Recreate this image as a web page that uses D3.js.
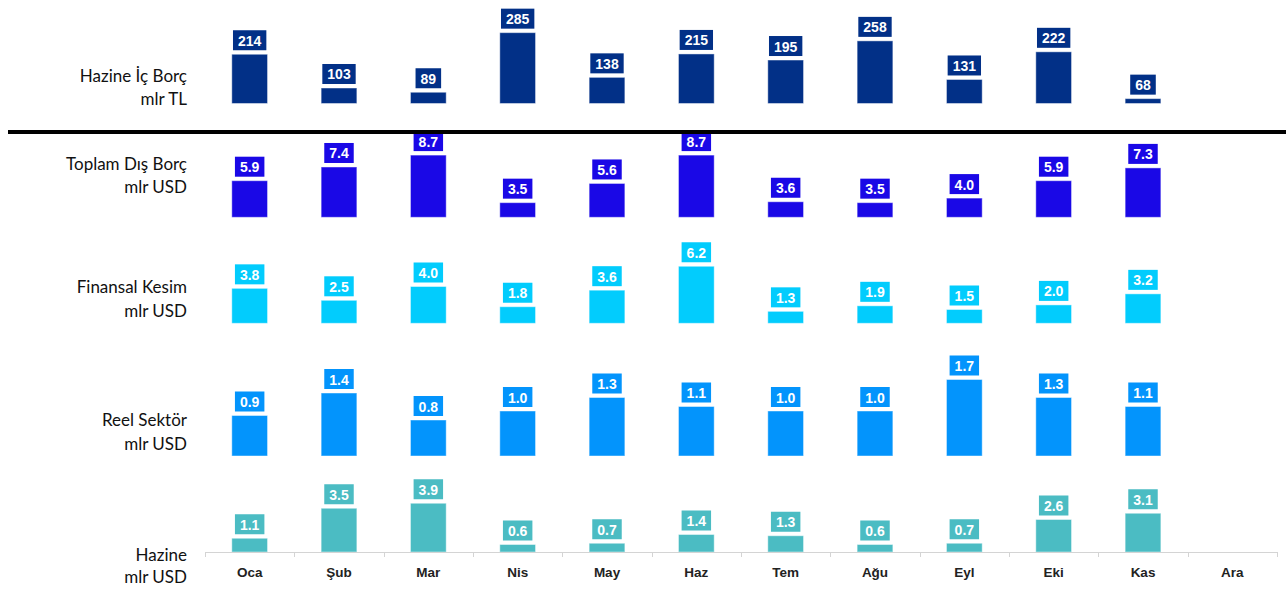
<!DOCTYPE html>
<html>
<head>
<meta charset="utf-8">
<script src="https://cdn.jsdelivr.net/npm/d3@7"></script>
<style>
  body { margin: 0; background: #ffffff; }
</style>
</head>
<body>
<div id="chart"></div>
<script>

// months (Ara has no data yet)
var months = ["Oca", "Şub", "Mar", "Nis", "May", "Haz", "Tem", "Ağu", "Eyl", "Eki", "Kas", "Ara"];

// series values
var hazineIcBorc  = [214, 103, 89, 285, 138, 215, 195, 258, 131, 222, 68];
var toplamDisBorc = [5.9, 7.4, 8.7, 3.5, 5.6, 8.7, 3.6, 3.5, 4.0, 5.9, 7.3];
var finansalKesim = [3.8, 2.5, 4.0, 1.8, 3.6, 6.2, 1.3, 1.9, 1.5, 2.0, 3.2];
var reelSektor    = [0.9, 1.4, 0.8, 1.0, 1.3, 1.1, 1.0, 1.0, 1.7, 1.3, 1.1];
var hazineUsd     = [1.1, 3.5, 3.9, 0.6, 0.7, 1.4, 1.3, 0.6, 0.7, 2.6, 3.1];

// row labels
var rowLabels = [
  ["Hazine İç Borç", "mlr TL"],
  ["Toplam Dış Borç", "mlr USD"],
  ["Finansal Kesim", "mlr USD"],
  ["Reel Sektör", "mlr USD"],
  ["Hazine", "mlr USD"]
];

var width = 1288, height = 590;

var svg = d3.select("#chart")
  .append("svg")
    .attr("width", width)
    .attr("height", height)
    .style("font-family", "'Liberation Sans', Arial, sans-serif");

// x scale shared by all rows
var x = d3.scaleBand()
  .domain(months)
  .range([205, 1277])
  .paddingInner(0.6)
  .paddingOuter(0.3);
var step = x.step();

// every row is its own little chart (own baseline and value axis)
var rows = [
  {values: hazineIcBorc,  color: "#023087", fmt: d3.format("d"),
   y: d3.scaleLinear().domain([52, 300]).range([103.5, 28.1]), labelY: [82, 105]},
  {values: toplamDisBorc, color: "#1a08e6", fmt: d3.format(".1f"),
   y: d3.scaleLinear().domain([1.9, 10]).range([217.3, 143.2]), labelY: [170, 193]},
  {values: finansalKesim, color: "#02ccfd", fmt: d3.format(".1f"),
   y: d3.scaleLinear().domain([0, 7]).range([323.3, 258.9]), labelY: [293, 317]},
  {values: reelSektor,    color: "#0394fc", fmt: d3.format(".1f"),
   y: d3.scaleLinear().domain([0, 2]).range([456, 366]), labelY: [426, 450]},
  {values: hazineUsd,     color: "#4bbcc3", fmt: d3.format(".1f"),
   y: d3.scaleLinear().domain([0, 4]).range([552, 502]), labelY: [561, 583]}
];

rows.forEach(function(row, r) {
  var data = row.values.map(function(v, i) { return {month: months[i], value: v}; });
  var base = row.y.range()[0];
  var g = svg.append("g");

  // row title on the left
  g.selectAll("text.rowlabel")
    .data(rowLabels[r])
    .enter()
    .append("text")
      .attr("class", "rowlabel")
      .attr("x", 187)
      .attr("y", function(d, i) { return row.labelY[i]; })
      .attr("text-anchor", "end")
      .style("font-family", "Lato, 'Noto Sans', sans-serif")
      .style("font-size", "17px")
      .style("fill", "#111")
      .text(function(d) { return d; });

  // bars
  g.selectAll("rect.bar")
    .data(data)
    .enter()
    .append("rect")
      .attr("class", "bar")
      .attr("x", function(d) { return x(d.month); })
      .attr("y", function(d) { return row.y(d.value); })
      .attr("width", x.bandwidth())
      .attr("height", function(d) { return base - row.y(d.value); })
      .style("fill", row.color)
      .style("stroke", "rgba(255,255,255,0.45)")
      .style("stroke-width", 1);

  // value labels in boxes
  var lab = g.selectAll("g.lab")
    .data(data)
    .enter()
    .append("g")
      .attr("class", "lab");

  lab.append("text")
      .attr("x", function(d) { return x(d.month) + x.bandwidth() / 2; })
      .attr("y", function(d) { return row.y(d.value) - 8.5; })
      .attr("text-anchor", "middle")
      .style("font-size", "14px")
      .style("font-weight", "bold")
      .style("fill", "#ffffff")
      .text(function(d) { return row.fmt(d.value); });

  lab.insert("rect", "text")
      .each(function(d) {
        var w = this.parentNode.querySelector("text").getComputedTextLength() + 10;
        d3.select(this)
          .attr("x", x(d.month) + x.bandwidth() / 2 - w / 2)
          .attr("y", row.y(d.value) - 24)
          .attr("width", w)
          .attr("height", 20);
      })
      .style("fill", row.color);
});

// separator line under the TL row
svg.append("rect")
  .attr("x", 8)
  .attr("y", 130)
  .attr("width", 1278)
  .attr("height", 4)
  .style("fill", "#000");

// bottom axis
var axisY = rows[4].y.range()[0];
svg.append("g")
  .attr("transform", "translate(0," + axisY + ")")
  .call(d3.axisBottom(x).tickSize(0).tickPadding(15))
  .call(function(g) {
    g.select(".domain").remove();
    g.selectAll("text")
      .style("font-family", "'Liberation Sans', Arial, sans-serif")
      .style("font-size", "13.5px")
      .style("font-weight", "bold")
      .style("fill", "#222");
  });

svg.append("line")
  .attr("x1", 205)
  .attr("x2", 1277)
  .attr("y1", axisY + 0.5)
  .attr("y2", axisY + 0.5)
  .style("stroke", "#d4d4d4");

// tick marks between categories
var edges = months.map(function(m) { return x(m) - step * 0.3; });
edges.push(1277);
svg.selectAll("line.tick")
  .data(edges)
  .enter()
  .append("line")
    .attr("class", "tick")
    .attr("x1", function(d) { return Math.round(d) + 0.5; })
    .attr("x2", function(d) { return Math.round(d) + 0.5; })
    .attr("y1", axisY)
    .attr("y2", axisY + 5)
    .style("stroke", "#d4d4d4");

</script>
</body>
</html>
